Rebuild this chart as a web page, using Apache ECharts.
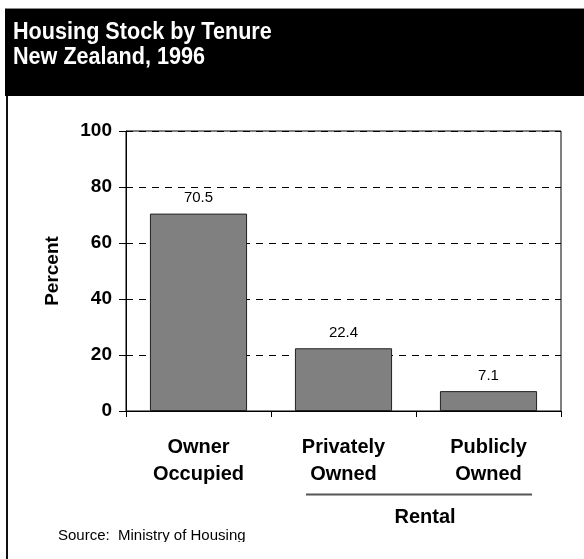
<!DOCTYPE html>
<html>
<head>
<meta charset="utf-8">
<script src="https://cdn.jsdelivr.net/npm/echarts@6/dist/echarts.min.js"></script>
<style>
  html, body { margin: 0; padding: 0; background: #fff; }
  #chart { width: 584px; height: 559px; }
</style>
</head>
<body>
<div id="chart"></div>
<script>
// Housing stock by tenure, New Zealand 1996 (percent of dwellings)
const categories = ['Owner\nOccupied', 'Privately\nOwned', 'Publicly\nOwned'];
const shares = [70.5, 22.4, 7.1];
const titleLines = ['Housing Stock by Tenure', 'New Zealand, 1996'];
const groupLabel = 'Rental';
const sourceNote = 'Source:  Ministry of Housing';

const FONT = '"Liberation Sans", Arial, Helvetica, sans-serif';

const chart = echarts.init(document.getElementById('chart'), null, { renderer: 'canvas' });

chart.setOption({
  backgroundColor: '#ffffff',
  animation: false,
  grid: {
    left: 126, right: 23, top: 131, bottom: 148,
    show: true, borderColor: '#000', borderWidth: 1, backgroundColor: 'transparent'
  },
  xAxis: {
    type: 'category',
    data: categories,
    boundaryGap: true,
    axisLine: { lineStyle: { color: '#000', width: 1 } },
    axisTick: { show: true, length: 6, interval: 0, lineStyle: { color: '#000' } },
    axisLabel: {
      interval: 0, margin: 23,
      color: '#000', fontFamily: FONT, fontWeight: 'bold', fontSize: 20, lineHeight: 27
    }
  },
  yAxis: {
    type: 'value',
    min: 0, max: 100, interval: 20,
    name: 'Percent',
    nameLocation: 'middle',
    nameRotate: 90,
    nameGap: 64,
    nameTextStyle: { color: '#000', fontFamily: FONT, fontWeight: 'bold', fontSize: 19 },
    axisLine: { show: true, lineStyle: { color: '#000', width: 1 } },
    axisTick: { show: true, inside: false, length: 7, lineStyle: { color: '#000' } },
    axisLabel: { margin: 14, color: '#000', fontFamily: FONT, fontWeight: 'bold', fontSize: 19 },
    splitLine: { show: true, lineStyle: { color: '#000', type: [7, 6], width: 1 } }
  },
  series: [{
    type: 'bar',
    data: shares,
    barWidth: '67%',
    itemStyle: { color: '#808080', borderColor: '#222', borderWidth: 1 },
    label: {
      show: true, position: 'top', distance: 8,
      color: '#000', fontFamily: FONT, fontSize: 15,
      formatter: p => p.value.toFixed(1)
    }
  }],
  graphic: [
    // header band
    { type: 'rect', shape: { x: 5, y: 8, width: 579, height: 1 }, style: { fill: '#8a8a8a' }, silent: true },
    { type: 'rect', shape: { x: 5, y: 9, width: 579, height: 87 }, style: { fill: '#000' }, silent: true },
    { type: 'text', x: 13, y: 48, scaleY: 1.08, originX: 13, originY: 48,
      style: { text: titleLines[0], fill: '#fff', font: 'bold 21.6px ' + FONT, textVerticalAlign: 'bottom' } },
    { type: 'text', x: 13, y: 76, scaleY: 1.08, originX: 13, originY: 76,
      style: { text: titleLines[1], fill: '#fff', font: 'bold 21.6px ' + FONT, textVerticalAlign: 'bottom' } },
    // frame edge on the left
    { type: 'rect', shape: { x: 6, y: 96, width: 2, height: 463 }, style: { fill: '#111' }, silent: true },
    // rental grouping bracket
    { type: 'line', shape: { x1: 306, y1: 494.5, x2: 532, y2: 494.5 }, style: { stroke: '#555', lineWidth: 2 }, silent: true },
    { type: 'text', x: 425, y: 517, style: { text: groupLabel, fill: '#000', font: 'bold 20px ' + FONT, textAlign: 'center', textVerticalAlign: 'middle' } },
    // source note, cut off at the lower edge of the frame
    { type: 'text', x: 58, y: 536, z: 10, style: { text: sourceNote, fill: '#000', font: '15px ' + FONT, textAlign: 'left', textVerticalAlign: 'middle' } },
    { type: 'rect', z: 20, shape: { x: 9, y: 542, width: 575, height: 17 }, style: { fill: '#fff' }, silent: true }
  ]
});
</script>
</body>
</html>
